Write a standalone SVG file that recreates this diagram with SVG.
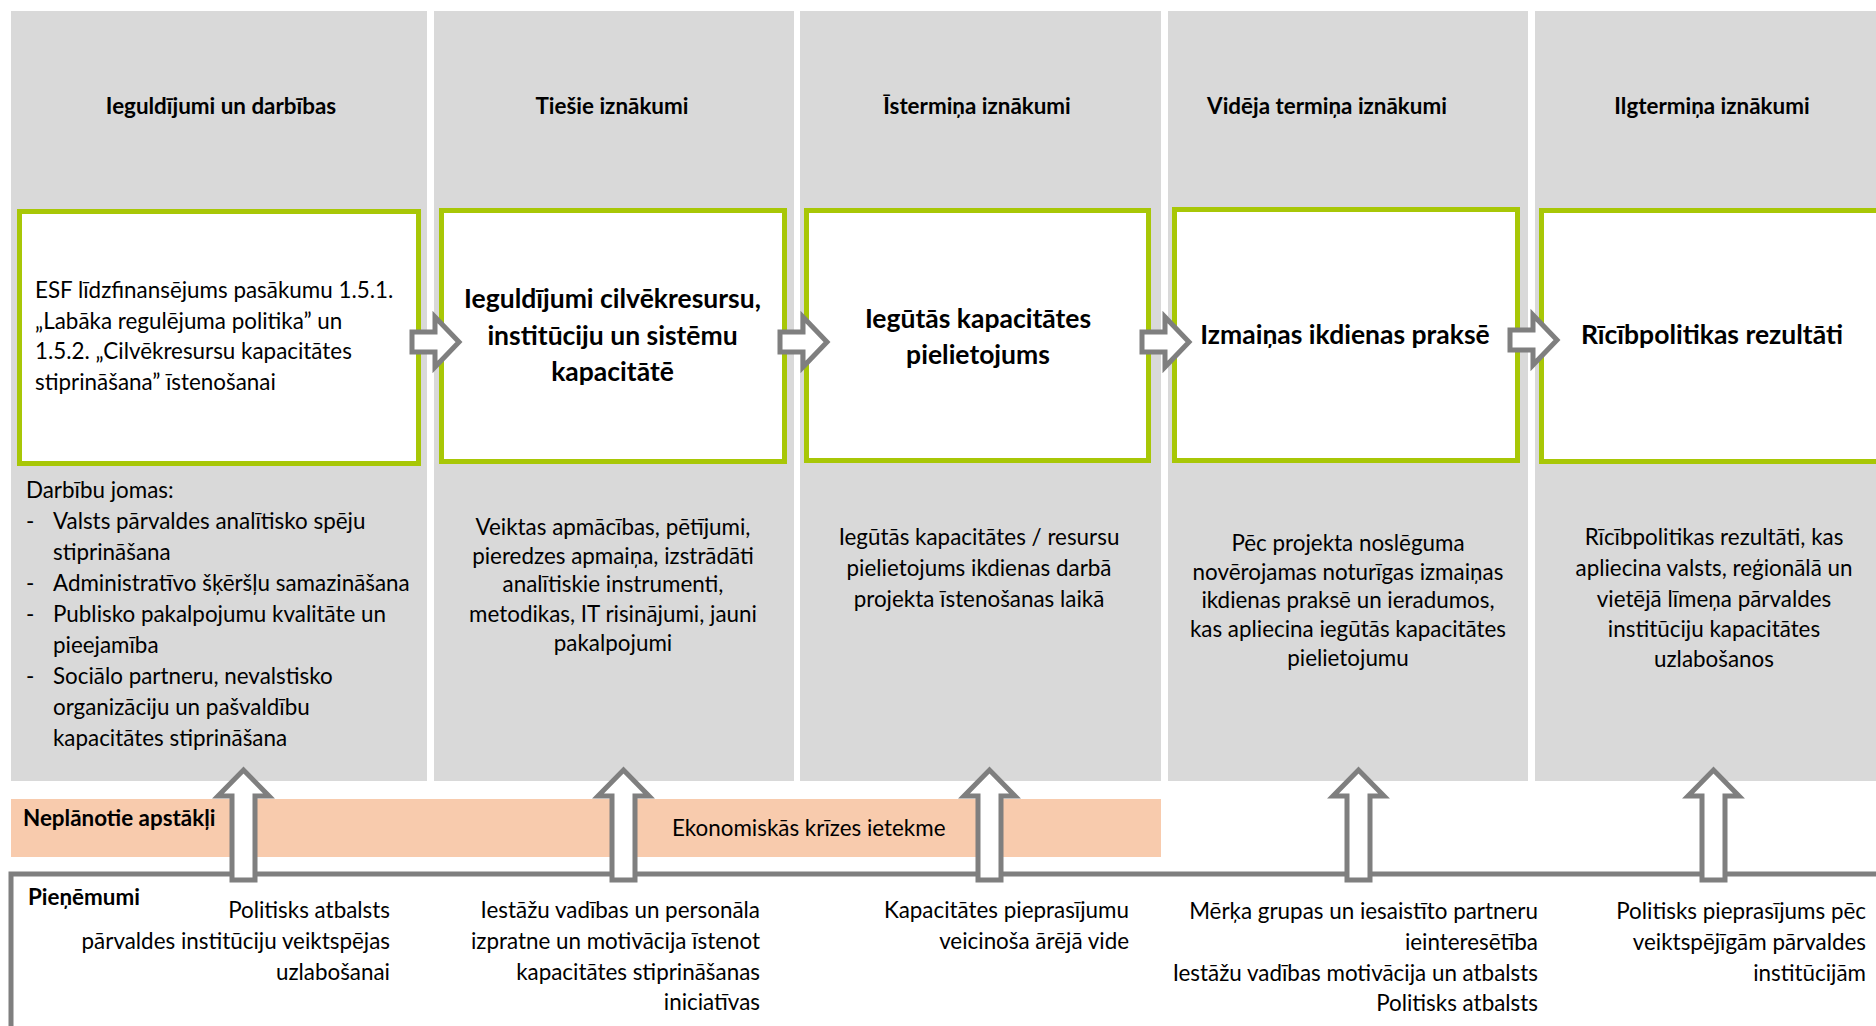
<svg xmlns="http://www.w3.org/2000/svg" width="1876" height="1026" viewBox="0 0 1876 1026">
<style>
.col{fill:#d9d9d9}
.box{fill:#ffffff;stroke:#a8c706;stroke-width:5}
.t{font-family:Lato,"Liberation Sans",sans-serif;font-size:22.4px;fill:#000}
.h{font-family:Lato,"Liberation Sans",sans-serif;font-size:22.4px;font-weight:bold;fill:#000;text-anchor:middle}
.bt{font-family:Lato,"Liberation Sans",sans-serif;font-size:26.5px;font-weight:bold;fill:#000;text-anchor:middle}
.c{text-anchor:middle}
.r{text-anchor:end}
.arr{fill:#ffffff;stroke:#7f7f7f;stroke-width:5;stroke-linejoin:miter}
</style>
<rect width="1876" height="1026" fill="#ffffff"/>
<g id="columns">
<rect class="col" x="11" y="11" width="416" height="770"/>
<rect class="col" x="434" y="11" width="360" height="770"/>
<rect class="col" x="800" y="11" width="361" height="770"/>
<rect class="col" x="1168" y="11" width="360" height="770"/>
<rect class="col" x="1535" y="11" width="341" height="770"/>
</g>
<g id="headers">
<text class="h" x="221" y="114">Ieguldījumi un darbības</text>
<text class="h" x="612" y="114">Tiešie iznākumi</text>
<text class="h" x="977" y="114">Īstermiņa iznākumi</text>
<text class="h" x="1327" y="114">Vidēja termiņa iznākumi</text>
<text class="h" x="1712" y="114">Ilgtermiņa iznākumi</text>
</g>
<g id="node1">
<rect class="box" x="19.5" y="211.5" width="399" height="252"/>
<text class="t" x="35" y="298">ESF līdzfinansējums pasākumu 1.5.1.</text>
<text class="t" x="35" y="329">„Labāka regulējuma politika” un</text>
<text class="t" x="35" y="359">1.5.2. „Cilvēkresursu kapacitātes</text>
<text class="t" x="35" y="390">stiprināšana” īstenošanai</text>
</g>
<g id="node1-desc">
<text class="t" x="26" y="498">Darbību jomas:</text>
<text class="t" x="26" y="529">-</text><text class="t" x="53" y="529">Valsts pārvaldes analītisko spēju</text>
<text class="t" x="53" y="560">stiprināšana</text>
<text class="t" x="26" y="591">-</text><text class="t" x="53" y="591">Administratīvo šķēršļu samazināšana</text>
<text class="t" x="26" y="622">-</text><text class="t" x="53" y="622">Publisko pakalpojumu kvalitāte un</text>
<text class="t" x="53" y="653">pieejamība</text>
<text class="t" x="26" y="684">-</text><text class="t" x="53" y="684">Sociālo partneru, nevalstisko</text>
<text class="t" x="53" y="715">organizāciju un pašvaldību</text>
<text class="t" x="53" y="746">kapacitātes stiprināšana</text>
</g>
<g id="node2">
<rect class="box" x="441.5" y="210.5" width="343" height="251"/>
<text class="bt" x="612.5" y="308">Ieguldījumi cilvēkresursu,</text>
<text class="bt" x="612.5" y="345">institūciju un sistēmu</text>
<text class="bt" x="612.5" y="381">kapacitātē</text>
</g>
<g id="node2-desc">
<text class="t c" x="613" y="535">Veiktas apmācības, pētījumi,</text>
<text class="t c" x="613" y="564">pieredzes apmaiņa, izstrādāti</text>
<text class="t c" x="613" y="592">analītiskie instrumenti,</text>
<text class="t c" x="613" y="622">metodikas, IT risinājumi, jauni</text>
<text class="t c" x="613" y="651">pakalpojumi</text>
</g>
<g id="node3">
<rect class="box" x="806.5" y="210.5" width="342" height="250"/>
<text class="bt" x="978" y="328">Iegūtās kapacitātes</text>
<text class="bt" x="978" y="364">pielietojums</text>
</g>
<g id="node3-desc">
<text class="t c" x="979" y="545">Iegūtās kapacitātes / resursu</text>
<text class="t c" x="979" y="576">pielietojums ikdienas darbā</text>
<text class="t c" x="979" y="607">projekta īstenošanas laikā</text>
</g>
<g id="node4">
<rect class="box" x="1174.5" y="209.5" width="343" height="251"/>
<text class="bt" x="1345" y="344">Izmaiņas ikdienas praksē</text>
</g>
<g id="node4-desc">
<text class="t c" x="1348" y="551">Pēc projekta noslēguma</text>
<text class="t c" x="1348" y="580">novērojamas noturīgas izmaiņas</text>
<text class="t c" x="1348" y="608">ikdienas praksē un ieradumos,</text>
<text class="t c" x="1348" y="637">kas apliecina iegūtās kapacitātes</text>
<text class="t c" x="1348" y="666">pielietojumu</text>
</g>
<g id="node5">
<rect class="box" x="1541.5" y="210.5" width="400" height="251"/>
<text class="bt" x="1712" y="344">Rīcībpolitikas rezultāti</text>
</g>
<g id="node5-desc">
<text class="t c" x="1714" y="545">Rīcībpolitikas rezultāti, kas</text>
<text class="t c" x="1714" y="576">apliecina valsts, reģionālā un</text>
<text class="t c" x="1714" y="607">vietējā līmeņa pārvaldes</text>
<text class="t c" x="1714" y="637">institūciju kapacitātes</text>
<text class="t c" x="1714" y="667">uzlabošanos</text>
</g>
<g id="unplanned">
<rect x="11" y="799" width="1150" height="58" fill="#f8cbad"/>
<text class="t" x="23" y="826" font-weight="bold">Neplānotie apstākļi</text>
<text class="t" x="672" y="836">Ekonomiskās krīzes ietekme</text>
</g>
<g id="assumptions">
<rect x="11" y="874" width="1900" height="300" fill="none" stroke="#7f7f7f" stroke-width="5"/>
<text class="t" x="28" y="905" font-weight="bold">Pieņēmumi</text>
<text class="t r" x="390" y="918">Politisks atbalsts</text>
<text class="t r" x="390" y="949">pārvaldes institūciju veiktspējas</text>
<text class="t r" x="390" y="980">uzlabošanai</text>
<text class="t r" x="760" y="918">Iestāžu vadības un personāla</text>
<text class="t r" x="760" y="949">izpratne un motivācija īstenot</text>
<text class="t r" x="760" y="980">kapacitātes stiprināšanas</text>
<text class="t r" x="760" y="1010">iniciatīvas</text>
<text class="t r" x="1129" y="918">Kapacitātes pieprasījumu</text>
<text class="t r" x="1129" y="949">veicinoša ārējā vide</text>
<text class="t r" x="1538" y="919">Mērķa grupas un iesaistīto partneru</text>
<text class="t r" x="1538" y="950">ieinteresētība</text>
<text class="t r" x="1538" y="981">Iestāžu vadības motivācija un atbalsts</text>
<text class="t r" x="1538" y="1011">Politisks atbalsts</text>
<text class="t r" x="1866" y="919">Politisks pieprasījums pēc</text>
<text class="t r" x="1866" y="950">veiktspējīgām pārvaldes</text>
<text class="t r" x="1866" y="981">institūcijām</text>
</g>
<g id="connectors">
<path class="arr" d="M412,332 h23 v-15 l24,25 l-24,25 v-15 h-23 z"/>
<path class="arr" d="M780,332 h23 v-15 l24,25 l-24,25 v-15 h-23 z"/>
<path class="arr" d="M1142,332 h23 v-15 l24,25 l-24,25 v-15 h-23 z"/>
<path class="arr" d="M1510,330 h23 v-15 l24,25 l-24,25 v-15 h-23 z"/>
<path class="arr" d="M232,880 v-84 h-14 l25.5,-26 l25.5,26 h-14 v84 z"/>
<path class="arr" d="M612,880 v-84 h-14 l25.5,-26 l25.5,26 h-14 v84 z"/>
<path class="arr" d="M978,880 v-84 h-14 l25.5,-26 l25.5,26 h-14 v84 z"/>
<path class="arr" d="M1347,880 v-84 h-14 l25.5,-26 l25.5,26 h-14 v84 z"/>
<path class="arr" d="M1702,880 v-84 h-14 l25.5,-26 l25.5,26 h-14 v84 z"/>
</g>
</svg>
